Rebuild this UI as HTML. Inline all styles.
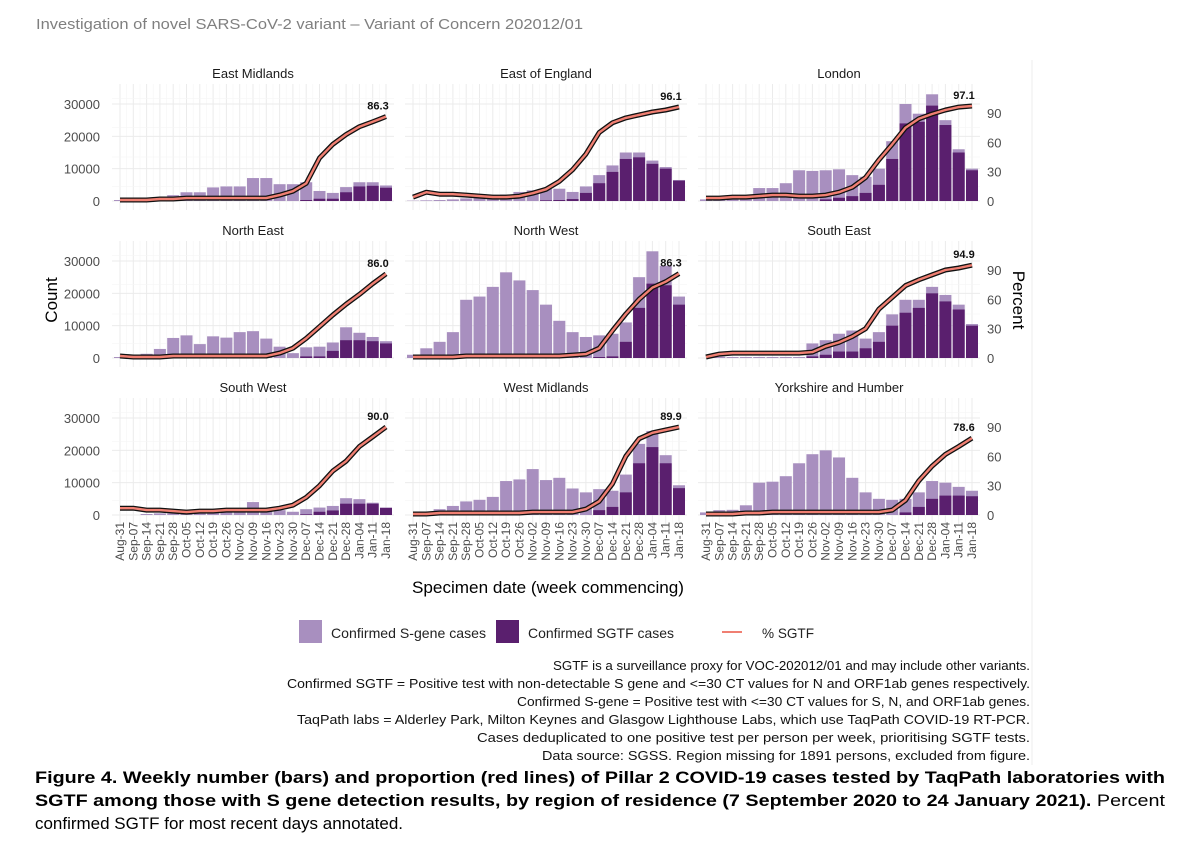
<!DOCTYPE html>
<html><head><meta charset="utf-8">
<style>
html,body{margin:0;padding:0;background:#fff;}
body{width:1200px;height:847px;overflow:hidden;font-family:"Liberation Sans",Arial,sans-serif;}
svg text{font-family:"Liberation Sans",Arial,sans-serif;}
</style></head>
<body>
<svg id="chart" width="1200" height="847" xmlns="http://www.w3.org/2000/svg">
<text x="36" y="29" font-size="15" fill="#7f7f7f" textLength="547" lengthAdjust="spacingAndGlyphs">Investigation of novel SARS-CoV-2 variant – Variant of Concern 202012/01</text>
<line x1="1032" y1="60" x2="1032" y2="765" stroke="#eeeeee" stroke-width="1"/>
<g id="panels"></g>
<text transform="translate(57,300) rotate(-90)" text-anchor="middle" font-size="17" fill="#000">Count</text>
<text transform="translate(1013,300) rotate(90)" text-anchor="middle" font-size="17" fill="#000">Percent</text>
<text x="548" y="593" text-anchor="middle" font-size="17" fill="#000" textLength="272" lengthAdjust="spacingAndGlyphs">Specimen date (week commencing)</text>
<g>
<rect x="299" y="620" width="23" height="23" fill="#a88fbf"/>
<text x="331" y="638" font-size="14" fill="#222" textLength="155" lengthAdjust="spacingAndGlyphs">Confirmed S-gene cases</text>
<rect x="496" y="620" width="23" height="23" fill="#5a1f6e"/>
<text x="528" y="638" font-size="14" fill="#222" textLength="146" lengthAdjust="spacingAndGlyphs">Confirmed SGTF cases</text>
<line x1="722" y1="632" x2="742" y2="632" stroke="#f07f72" stroke-width="2"/>
<text x="762" y="638" font-size="14" fill="#222" textLength="52" lengthAdjust="spacingAndGlyphs">% SGTF</text>
</g>
<g font-size="13" fill="#111" text-anchor="end">
<text x="1030" y="670" textLength="477" lengthAdjust="spacingAndGlyphs">SGTF is a surveillance proxy for VOC-202012/01 and may include other variants.</text>
<text x="1030" y="688" textLength="743" lengthAdjust="spacingAndGlyphs">Confirmed SGTF = Positive test with non-detectable S gene and &lt;=30 CT values for N and ORF1ab genes respectively.</text>
<text x="1030" y="706" textLength="513" lengthAdjust="spacingAndGlyphs">Confirmed S-gene = Positive test with &lt;=30 CT values for S, N, and ORF1ab genes.</text>
<text x="1030" y="724" textLength="733" lengthAdjust="spacingAndGlyphs">TaqPath labs = Alderley Park, Milton Keynes and Glasgow Lighthouse Labs, which use TaqPath COVID-19 RT-PCR.</text>
<text x="1030" y="742" textLength="553" lengthAdjust="spacingAndGlyphs">Cases deduplicated to one positive test per person per week, prioritising SGTF tests.</text>
<text x="1030" y="760" textLength="488" lengthAdjust="spacingAndGlyphs">Data source: SGSS. Region missing for 1891 persons, excluded from figure.</text>
</g>
<g font-size="17" fill="#000">
<text x="35" y="783" font-weight="bold" textLength="1130" lengthAdjust="spacingAndGlyphs">Figure 4. Weekly number (bars) and proportion (red lines) of Pillar 2 COVID-19 cases tested by TaqPath laboratories with</text>
<text x="35" y="806" textLength="1130" lengthAdjust="spacingAndGlyphs"><tspan font-weight="bold">SGTF among those with S gene detection results, by region of residence (7 September 2020 to 24 January 2021).</tspan> Percent</text>
<text x="35" y="829" textLength="368" lengthAdjust="spacingAndGlyphs">confirmed SGTF for most recent days annotated.</text>
</g>
</svg>
<script>
const weeks = ["Aug-31","Sep-07","Sep-14","Sep-21","Sep-28","Oct-05","Oct-12","Oct-19","Oct-26","Nov-02","Nov-09","Nov-16","Nov-23","Nov-30","Dec-07","Dec-14","Dec-21","Dec-28","Jan-04","Jan-11","Jan-18"];
const regions = ["East Midlands","East of England","London","North East","North West","South East","South West","West Midlands","Yorkshire and Humber"];
const sgeneTotals = [
 [300,500,800,1000,1800,2700,2700,4200,4500,4500,7100,7100,5200,5200,5800,3100,2500,4300,5800,5800,4800],
 [100,200,300,500,800,1100,1500,2000,2800,3300,3700,3800,2800,4500,8000,11000,15000,15000,12500,10500,6500],
 [500,800,1000,1000,4000,4000,5500,9500,9300,9500,9800,8000,7500,10000,18500,30000,27000,33000,25000,16000,10000],
 [300,500,1300,2800,6200,7000,4300,6700,6300,8000,8300,6000,3500,1500,3300,3500,4800,9500,7800,6500,5200],
 [1000,3000,5000,8000,18000,19000,22000,26500,24000,21000,16500,11500,8000,6500,7000,7500,11000,25000,33000,28500,19000],
 [0,400,300,300,300,300,300,300,4500,5500,7500,8500,6000,8000,13500,18000,18000,22000,19500,16500,10500],
 [0,0,300,500,500,800,800,800,1000,1000,4000,1500,1500,1000,1800,2300,2800,5200,4900,3800,2300],
 [0,1000,1800,2800,4200,4700,5600,10500,11000,14200,10800,11500,8200,7000,8000,7500,12500,22000,26000,18500,9200],
 [800,1500,1600,3000,10000,10300,12000,16000,18800,20000,17800,11500,7000,5000,4700,5000,7000,10500,10000,8700,7500]
];
const sgtfCounts = [
 [0,0,0,0,0,0,0,0,0,0,0,0,0,0,300,700,700,2700,4500,4700,4100],
 [0,0,0,0,0,0,0,0,0,0,200,300,600,2500,5500,9000,13000,13500,11500,10000,6300],
 [0,0,0,0,0,0,0,0,0,500,1000,1500,2500,5000,13000,24000,24500,29500,23500,15000,9500],
 [0,0,0,0,0,0,0,0,0,0,0,0,0,0,500,500,2200,5500,5500,5200,4500],
 [0,0,0,0,0,0,0,0,0,0,0,0,0,0,300,500,5000,15500,23000,22500,16500],
 [0,0,0,0,0,0,0,0,500,1000,2000,2000,3000,5000,10000,14000,15500,20000,17500,15000,10000],
 [0,0,0,0,0,0,0,0,0,0,0,0,0,0,200,1000,1400,3500,3500,3500,2200],
 [0,0,0,0,0,0,0,0,0,0,0,0,0,0,1500,2500,7000,16000,21000,16000,8300],
 [0,0,0,0,0,0,0,0,0,0,0,0,0,0,0,800,2500,5000,6000,6000,5800]
];
const pctSgtf = [
 [1,1,1,2,2,3,3,3,3,3,3,3,6,10,18,44,58,68,76,81,86.3],
 [4,9,7,7,6,5,4,4,5,8,12,20,32,48,70,80,85,88,91,93,96.1],
 [3,3,4,4,5,6,6,5,5,6,9,14,24,42,58,75,84,89,93,96,97.1],
 [2,1,1,1,2,2,2,2,2,2,2,2,5,10,20,32,44,55,65,76,86.0],
 [1,1,1,1,2,2,2,2,2,2,2,2,3,4,10,28,45,60,72,78,86.3],
 [1,4,5,5,5,5,5,5,6,12,16,22,30,50,62,74,80,85,90,92,94.9],
 [7,7,5,5,4,3,4,4,5,5,5,5,7,10,18,30,45,55,70,80,90.0],
 [1,1,2,2,2,2,2,2,2,3,3,3,3,6,14,32,60,78,84,87,89.9],
 [1,1,1,2,2,3,3,3,3,3,3,3,3,3,5,15,35,50,62,70,78.6]
];
const countTicks = [0,10000,20000,30000];
const pctTicks = [0,30,60,90];

const NS = "http://www.w3.org/2000/svg";
const g = document.getElementById("panels");
const panelX0 = [112,405,698], plotW = 282, rowZero = [201,358,515], rowTop = [84,241,398];
const pitch = 13.3, firstOff = 8;
function xPos(c, i){ return panelX0[c] + firstOff + i * pitch; }
function yCount(r, v){ return rowZero[r] - v * 97 / 30000; }
function yPct(r, v){ return rowZero[r] - v * 0.978; }
function mk(tag, attrs, parent){ const e = document.createElementNS(NS, tag); for (const k in attrs) e.setAttribute(k, attrs[k]); (parent||g).appendChild(e); return e; }

regions.forEach((name, p) => {
  const r = Math.floor(p / 3), c = p % 3;
  const pg = mk("g", {});
  
  
  const top = rowTop[r], bot = rowZero[r] + 9;
  for (let i = 0; i < weeks.length; i++) {
    const x = xPos(c, i);
    mk("line", {x1:x, x2:x, y1:top, y2:bot, stroke:"#ebebeb", "stroke-width":1}, pg);
    if (i < weeks.length - 1) mk("line", {x1:x+pitch/2, x2:x+pitch/2, y1:top, y2:bot, stroke:"#f5f5f5", "stroke-width":0.6}, pg);
  }
  countTicks.forEach(t => { const y = yCount(r, t); mk("line", {x1:panelX0[c], x2:panelX0[c]+plotW, y1:y, y2:y, stroke:"#ebebeb", "stroke-width":1}, pg); });
  [15,45,75,105].forEach(t => { const y = yPct(r, t); mk("line", {x1:panelX0[c], x2:panelX0[c]+plotW, y1:y, y2:y, stroke:"#f5f5f5", "stroke-width":0.6}, pg); });
  const tt = mk("text", {x: panelX0[c] + plotW/2, y: top - 6, "text-anchor":"middle", "font-size":13, fill:"#1a1a1a"}, pg);
  tt.textContent = name;
  
  
  const bw = 12;
  sgeneTotals[p].forEach((v, i) => {
    if (v <= 0) return;
    const b = mk("rect", {x: xPos(c,i)-bw/2, y: yCount(r,v), width: bw, height: rowZero[r]-yCount(r,v), fill:"#a88fbf"}, pg);
    
    
  });
  sgtfCounts[p].forEach((v, i) => {
    if (v <= 0) return;
    const b = mk("rect", {x: xPos(c,i)-bw/2, y: yCount(r,v), width: bw, height: rowZero[r]-yCount(r,v), fill:"#5a1f6e"}, pg);
    
    
  });
  const pts = pctSgtf[p].map((v, i) => xPos(c,i).toFixed(1) + "," + yPct(r,v).toFixed(1)).join(" ");
  const l1 = mk("polyline", {points: pts, fill:"none", stroke:"#111", "stroke-width":5, "stroke-linejoin":"round"}, pg);
  
  
  const l2 = mk("polyline", {points: pts, fill:"none", stroke:"#f07f72", "stroke-width":2.4, "stroke-linejoin":"round"}, pg);
  
  
  const last = pctSgtf[p].length - 1;
  const an = mk("text", {x: xPos(c,last) - 8, y: yPct(r, pctSgtf[p][last]) - 7, "text-anchor":"middle", "font-size":11, "font-weight":"bold", fill:"#111"}, pg);
  an.textContent = pctSgtf[p][last].toFixed(1);
  
  
  if (c === 0) countTicks.forEach(t => {
    const tx = mk("text", {x: 100, y: yCount(r,t)+5, "text-anchor":"end", "font-size":13, fill:"#4d4d4d"}, pg);
    tx.textContent = t;
    
    
  });
  if (c === 2) pctTicks.forEach(t => {
    const tx = mk("text", {x: 987, y: yPct(r,t)+5, "font-size":13, fill:"#4d4d4d"}, pg);
    tx.textContent = t;
    
    
  });
  if (r === 2) weeks.forEach((w, i) => {
    const x = xPos(c, i) + 4;
    const tx = mk("text", {transform: "translate(" + x + ",522) rotate(-90)", "text-anchor":"end", "font-size":12, fill:"#4d4d4d"}, pg);
    tx.textContent = w;
    
    
  });
});
</script>
</body></html>
